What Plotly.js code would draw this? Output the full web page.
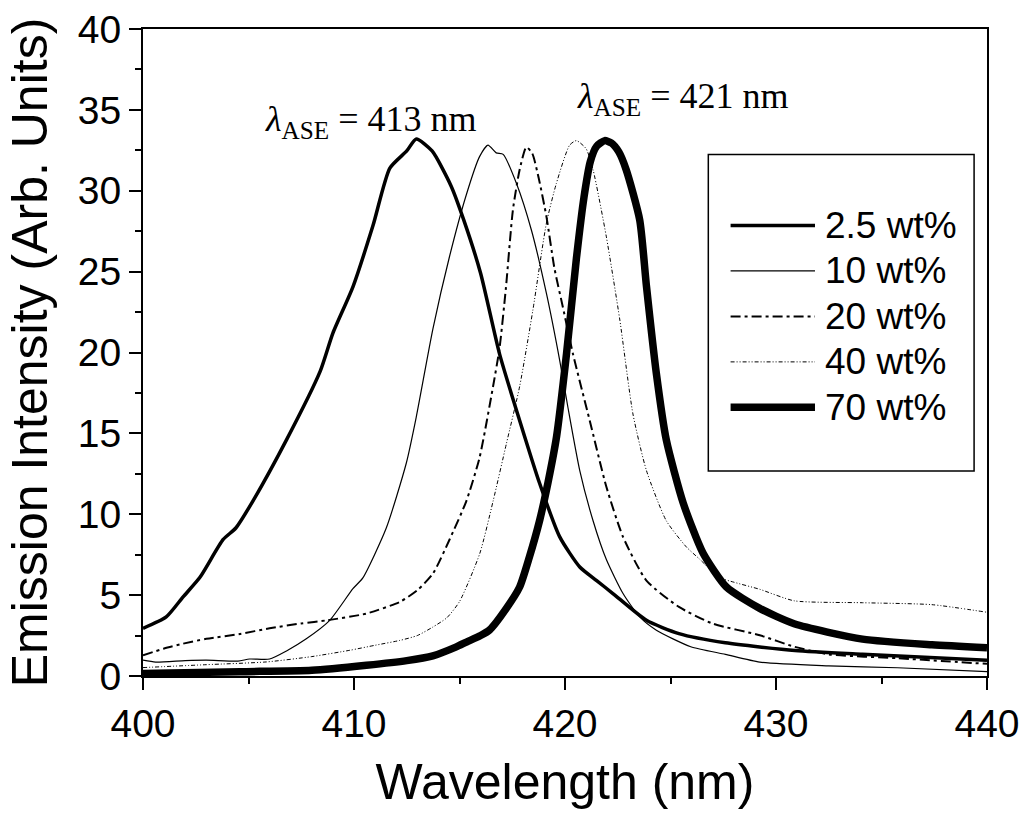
<!DOCTYPE html>
<html>
<head>
<meta charset="utf-8">
<script src="https://cdn.plot.ly/plotly-3.0.1.min.js"></script>
<style>html,body{margin:0;padding:0;background:#fff;}#chart{width:1024px;height:822px;}</style>
</head>
<body>
<div id="chart"></div>
<script>
// ---- data ----
const seriesNames = ["2.5 wt%", "10 wt%", "20 wt%", "40 wt%", "70 wt%"];

const x25 = [400, 401.1, 401.9, 402.7, 403.8, 404.4, 405.2, 406.8, 408.4, 409.0, 409.95, 410.9, 411.7, 412.5, 412.95, 413.7, 414.6, 415.2, 416.0, 416.9, 417.85, 418.8, 419.75, 420.7, 421.5, 422.27, 423.86, 425.4, 427.6, 430.9, 434.1, 440];
const y25 = [2.95, 3.65, 4.89, 6.1, 8.44, 9.15, 10.8, 14.6, 18.85, 21.2, 24.06, 27.85, 31.4, 32.46, 33.2, 32.46, 30.3, 28.2, 24.9, 19.9, 15.8, 11.9, 8.6, 6.74, 5.9, 5.1, 3.44, 2.62, 2.05, 1.57, 1.34, 0.98];

const x10 = [400, 400.6, 402, 403, 404.5, 405.05, 406.0, 406.8, 407.74, 408.85, 409.95, 410.42, 411.53, 412.48, 412.95, 413.74, 414.53, 415.32, 415.95, 416.35, 416.74, 417.07, 417.7, 418.41, 419.12, 419.75, 420.14, 420.7, 421.33, 421.96, 422.75, 423.54, 424.33, 425.96, 427.6, 429.23, 432.49, 435.76, 440];
const y10 = [0.98, 0.86, 0.95, 0.98, 0.92, 1.05, 1.05, 1.55, 2.3, 3.44, 5.4, 6.07, 9.15, 13.17, 16.01, 21.46, 25.95, 29.74, 32.11, 32.82, 32.34, 32.25, 30.45, 27.56, 23.65, 19.5, 16.6, 12.7, 9.6, 7.2, 5.1, 3.65, 2.83, 1.81, 1.34, 0.86, 0.63, 0.51, 0.27];

const x20 = [400, 401.0, 401.9, 403.0, 404.6, 406.0, 407.5, 408.7, 410.59, 412.17, 413.0, 413.74, 414.53, 415.32, 415.95, 416.59, 416.9, 417.2, 417.53, 417.85, 418.17, 418.45, 418.75, 419.12, 419.5, 419.9, 420.38, 421.17, 421.96, 422.75, 423.86, 425.4, 427.0, 429.23, 430.86, 432.49, 435.76, 440];
const y20 = [1.28, 1.7, 2.0, 2.3, 2.6, 2.95, 3.25, 3.44, 3.86, 4.58, 5.3, 6.33, 8.44, 10.8, 13.5, 17.9, 20.3, 24.0, 28.8, 31.3, 32.7, 32.3, 30.8, 28.4, 25.2, 22.8, 19.9, 15.8, 11.7, 8.6, 5.9, 4.27, 3.24, 2.52, 1.81, 1.34, 1.1, 0.75];

const x40 = [400, 403, 405.85, 408, 409.8, 411, 412.17, 413.0, 413.74, 414.4, 415.0, 415.96, 416.59, 417.22, 417.85, 418.48, 419.12, 419.59, 420.22, 420.54, 421.0, 421.33, 421.96, 422.6, 423.22, 423.86, 424.8, 425.75, 426.4, 427.3, 428.0, 429.23, 430.86, 434.1, 437.39, 440];
const y40 = [0.52, 0.7, 0.87, 1.2, 1.59, 1.9, 2.2, 2.5, 3.03, 3.6, 4.6, 7.57, 10.8, 14.35, 17.9, 22.64, 28.0, 30.45, 32.82, 33.1, 32.6, 31.3, 27.15, 22.0, 16.2, 12.7, 9.6, 7.98, 7.2, 6.1, 5.8, 5.36, 4.65, 4.53, 4.41, 3.94];

const x70 = [400, 404.6, 408.0, 410.59, 412.5, 413.74, 414.85, 415.33, 416.0, 416.43, 417.22, 417.85, 418.3, 418.8, 419.2, 419.6, 420.07, 420.54, 420.9, 421.2, 421.5, 421.88, 422.2, 422.55, 422.9, 423.54, 423.86, 424.33, 424.8, 425.6, 426.54, 427.65, 429.23, 430.86, 434.1, 437.39, 440];
const y70 = [0.15, 0.27, 0.35, 0.66, 0.95, 1.25, 1.8, 2.1, 2.5, 2.85, 4.18, 5.5, 7.3, 9.63, 12.0, 14.8, 19.9, 25.8, 29.6, 31.8, 32.75, 33.1, 32.95, 32.4, 31.3, 28.2, 24.1, 18.7, 14.6, 10.7, 7.6, 5.5, 4.18, 3.23, 2.28, 1.93, 1.75];

const xTicks = [400, 410, 420, 430, 440];
const yTicks = [0, 5, 10, 15, 20, 25, 30, 35, 40];
const peakLabels = ["413", "421"];
const peakPos = [[410.8, 34.3], [425.6, 35.7]];

// ---- styles ----
const lineStyles = [
  {width: 3.5, dash: "solid"},
  {width: 1.2, dash: "solid"},
  {width: 2, dash: "10px,4px,3px,4px"},
  {width: 1, dash: "4px,2px,1px,2px,1px,2px"},
  {width: 7.5, dash: "solid"}
];
const xs = [x25, x10, x20, x40, x70];
const ys = [y25, y10, y20, y40, y70];
const traces = seriesNames.map((n, i) => ({
  x: xs[i], y: ys[i], name: n, type: "scatter", mode: "lines", showlegend: false,
  line: {color: "#000", width: lineStyles[i].width, dash: lineStyles[i].dash, shape: "spline", smoothing: 0.6}
}));

const sansFont = "Liberation Sans, Arial, sans-serif";
const serifFont = "Liberation Serif, Times New Roman, serif";

// legend box layout (paper coordinates)
const legBox = {x0: 0.6698, x1: 0.9847, y0: 0.3167, y1: 0.8059};
const legRow0 = 0.6964, legRowStep = 0.0703;
const legLineX = [0.6962, 0.7962], legTextX = 0.806;

const legendShapes = seriesNames.map((n, i) => ({
  type: "line", xref: "paper", yref: "paper",
  x0: legLineX[0], x1: legLineX[1], y0: legRow0 - i * legRowStep, y1: legRow0 - i * legRowStep,
  line: {color: "#000", width: lineStyles[i].width, dash: lineStyles[i].dash}
}));
const legendTexts = seriesNames.map((n, i) => ({
  x: legTextX, y: legRow0 - i * legRowStep, xref: "paper", yref: "paper",
  text: n, showarrow: false, xanchor: "left", yanchor: "middle",
  font: {family: sansFont, size: 37, color: "#000"}
}));

const axisCommon = {
  showgrid: false, zeroline: false, showline: true, linecolor: "#000", linewidth: 2,
  mirror: true, ticks: "outside", ticklen: 12, tickwidth: 2, tickcolor: "#000",
  tickfont: {family: sansFont, size: 39, color: "#000"}, automargin: false
};

const layout = {
  width: 1024, height: 822,
  paper_bgcolor: "#fff", plot_bgcolor: "#fff",
  margin: {l: 143, r: 37, t: 29, b: 146},
  showlegend: false,
  xaxis: Object.assign({}, axisCommon, {
    range: [400, 440], tickvals: xTicks, ticktext: xTicks.map(String),
    minor: {dtick: 5, ticklen: 6, tickwidth: 2, tickcolor: "#000", ticks: "outside"},
    title: {text: "Wavelength (nm)", font: {family: sansFont, size: 50, color: "#000"}, standoff: 20}
  }),
  yaxis: Object.assign({}, axisCommon, {
    range: [0, 40], tickvals: yTicks, ticktext: yTicks.map(String),
    minor: {dtick: 2.5, ticklen: 6, tickwidth: 2, tickcolor: "#000", ticks: "outside"},
    title: {text: "Emission Intensity (Arb. Units)", font: {family: sansFont, size: 50, color: "#000"}, standoff: 14}
  }),
  shapes: [{
    type: "rect", xref: "paper", yref: "paper",
    x0: legBox.x0, x1: legBox.x1, y0: legBox.y0, y1: legBox.y1,
    line: {color: "#000", width: 1.5}, fillcolor: "rgba(0,0,0,0)"
  }].concat(legendShapes),
  annotations: peakLabels.map((p, i) => ({
    x: peakPos[i][0], y: peakPos[i][1], xref: "x", yref: "y",
    text: "<i>λ</i><sub>ASE</sub> = " + p + " nm", showarrow: false,
    font: {family: serifFont, size: 36, color: "#000"},
    xanchor: "center", yanchor: "middle"
  })).concat(legendTexts)
};

Plotly.newPlot("chart", traces, layout, {displayModeBar: false, staticPlot: true});
</script>
</body>
</html>
